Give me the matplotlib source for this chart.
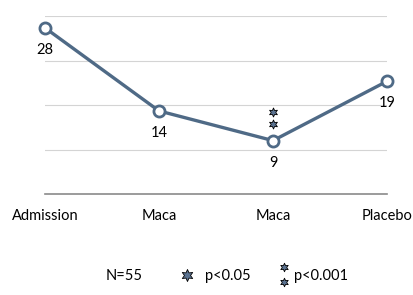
import matplotlib.pyplot as plt

categories = ["Admission", "Maca", "Maca", "Placebo"]
values = [28, 14, 9, 19]
star_index = 2
star_values = [13.8, 11.8]
grid_levels = [7.5, 15, 22.5, 30]

line_color = "#4f6a86"
star_face = "#5b7391"

plt.rcParams["font.family"] = ["Lato", "DejaVu Sans"]
fs = 10.5

fig = plt.figure(figsize=(4.13, 2.95), dpi=100)
ax = fig.add_axes([45 / 413, 1 - 194 / 295, 342 / 413, 178 / 295])

x = list(range(len(values)))
ax.plot(x, values, color=line_color, linewidth=2.4, marker="o", markersize=8,
        markerfacecolor="white", markeredgecolor=line_color, markeredgewidth=2,
        zorder=3, clip_on=False)

# value labels under each point
for xi, v in zip(x, values):
    ax.annotate(str(v), (xi, v), xytext=(0, -16), textcoords="offset points",
                ha="center", va="center", fontsize=fs)

# significance stars
ax.scatter([star_index] * len(star_values), star_values, marker=(6, 1, 0), s=42,
           facecolor=star_face, edgecolor="black", linewidth=0.6, zorder=4)

for g in grid_levels:
    ax.axhline(g, color="#d4d4d4", linewidth=0.8, zorder=1)

ax.set_xlim(0, len(values) - 1)
ax.set_ylim(0, 30)
for s in ["top", "left", "right"]:
    ax.spines[s].set_visible(False)
ax.spines["bottom"].set_color("#8a8a8a")
ax.spines["bottom"].set_linewidth(1.2)
ax.set_yticks([])
ax.set_xticks(x)
ax.set_xticklabels(categories, fontsize=fs)
ax.tick_params(axis="x", length=0, pad=11)

# legend row
fig.text(124 / 413, 1 - 276 / 295, "N=55", ha="center", va="center", fontsize=fs)
fig.text(228 / 413, 1 - 276 / 295, "p<0.05", ha="center", va="center", fontsize=fs)
fig.text(321 / 413, 1 - 276 / 295, "p<0.001", ha="center", va="center", fontsize=fs)
star_ax = fig.add_axes([0, 0, 1, 1], facecolor="none")
star_ax.set_xlim(0, 413)
star_ax.set_ylim(295, 0)
star_ax.axis("off")
star_ax.scatter([187], [275], marker=(6, 1, 0), s=75, facecolor=star_face,
                edgecolor="black", linewidth=0.6)
star_ax.scatter([284, 284], [267, 282], marker=(6, 1, 0), s=38, facecolor=star_face,
                edgecolor="black", linewidth=0.6)

fig.savefig("out.png", dpi=100)
